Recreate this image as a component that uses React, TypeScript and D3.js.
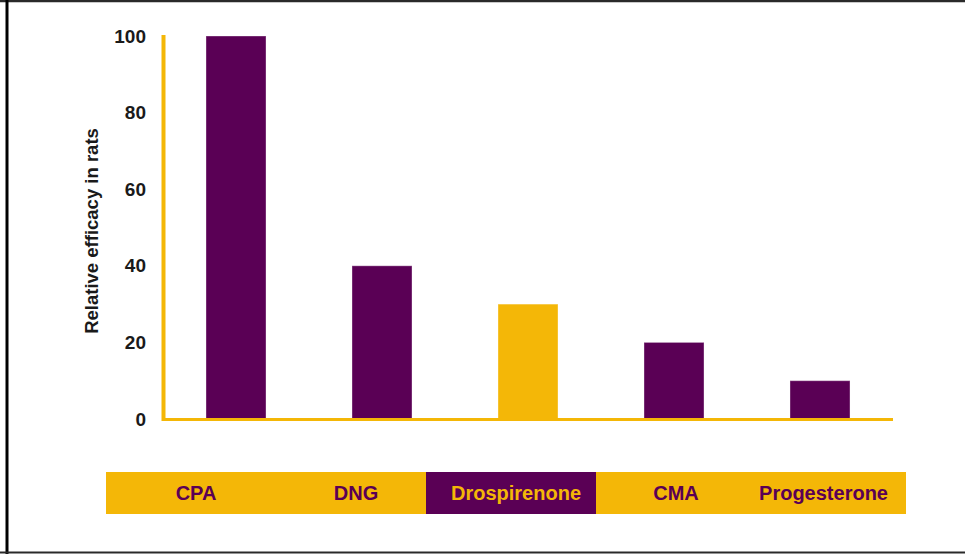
import React, { useEffect, useRef } from "react";
import * as d3 from "d3";

// Relative antiandrogenic efficacy in rats, per progestogen
const categories = ["CPA", "DNG", "Drospirenone", "CMA", "Progesterone"];
const efficacy = [100, 40, 30, 20, 10];
const yTicks = [0, 20, 40, 60, 80, 100];
const highlight = "Drospirenone";
const yTitle = "Relative efficacy in rats";

const W = 965;
const H = 554;
const PURPLE = "#5a0055";
const YELLOW = "#f4b707";
const FONT = "'Liberation Sans', Arial, Helvetica, sans-serif";

export default function App() {
  const ref = useRef<SVGSVGElement | null>(null);

  useEffect(() => {
    const svg = d3.select(ref.current);
    svg.selectAll("*").remove();

    // frame
    svg.append("line").attr("x1", 0).attr("x2", W).attr("y1", 1).attr("y2", 1)
      .attr("stroke", "#2a2a2a").attr("stroke-width", 2.5);
    svg.append("line").attr("x1", 7).attr("x2", 7).attr("y1", 0).attr("y2", H)
      .attr("stroke", "#000").attr("stroke-width", 3);
    svg.append("line").attr("x1", 0).attr("x2", W).attr("y1", 552.5).attr("y2", 552.5)
      .attr("stroke", "#2a2a2a").attr("stroke-width", 2);

    const x = d3.scaleBand<string>()
      .domain(categories)
      .range([163, 893])
      .paddingInner(0.589)
      .paddingOuter(0.2945);
    const y = d3.scaleLinear().domain([0, 100]).range([419, 36]);

    // bars
    svg.append("g")
      .selectAll("rect")
      .data(categories)
      .join("rect")
      .attr("x", (d) => x(d)!)
      .attr("width", x.bandwidth())
      .attr("y", (d, i) => y(efficacy[i]))
      .attr("height", (d, i) => y(0) - y(efficacy[i]))
      .attr("fill", (d) => (d === highlight ? YELLOW : PURPLE))
      .attr("stroke", "#ffffff")
      .attr("stroke-opacity", 0.35)
      .attr("stroke-width", 1);

    // axes
    svg.append("line")
      .attr("x1", 163.5).attr("x2", 163.5)
      .attr("y1", y(100) - 1).attr("y2", y(0) + 2)
      .attr("stroke", YELLOW).attr("stroke-width", 4);
    svg.append("line")
      .attr("x1", 162).attr("x2", 893)
      .attr("y1", y(0) + 0.5).attr("y2", y(0) + 0.5)
      .attr("stroke", YELLOW).attr("stroke-width", 3);

    // y tick labels
    svg.append("g")
      .selectAll("text")
      .data(yTicks)
      .join("text")
      .attr("x", 146)
      .attr("y", (d) => y(d) + 6.6)
      .attr("text-anchor", "end")
      .attr("font-family", FONT)
      .attr("font-weight", "bold")
      .attr("font-size", 19)
      .attr("fill", "#1a1a1a")
      .text((d) => String(d));

    // y title
    svg.append("text")
      .attr("transform", "translate(97.5,231) rotate(-90)")
      .attr("text-anchor", "middle")
      .attr("font-family", FONT)
      .attr("font-weight", "bold")
      .attr("font-size", 18.5)
      .attr("fill", "#1a1a1a")
      .text(yTitle);

    // category strip
    const strip = d3.scaleBand<string>().domain(categories).range([106, 906]);
    const stripTop = 472;
    const stripH = 42;
    svg.append("rect")
      .attr("x", 106).attr("y", stripTop)
      .attr("width", 800).attr("height", stripH)
      .attr("fill", YELLOW);
    svg.append("rect")
      .attr("x", strip(highlight)!).attr("y", stripTop)
      .attr("width", strip.bandwidth() + 10).attr("height", stripH)
      .attr("fill", PURPLE);

    const labels = svg.append("g")
      .selectAll("text")
      .data(categories)
      .join("text")
      .attr("y", stripTop + stripH / 2 + 7.2)
      .attr("text-anchor", "middle")
      .attr("font-family", FONT)
      .attr("font-weight", "bold")
      .attr("font-size", 20)
      .attr("fill", (d) => (d === highlight ? YELLOW : PURPLE))
      .text((d) => d);

    labels.attr("x", function (d) {
      const half = (this as SVGTextElement).getComputedTextLength() / 2;
      const c = strip(d)! + strip.bandwidth() / 2 + 10;
      return Math.min(c, 888 - half);
    });
  }, []);

  return (
    <svg
      ref={ref}
      width={W}
      height={H}
      style={{ position: "absolute", left: 0, top: 0, background: "#fff" }}
    />
  );
}
